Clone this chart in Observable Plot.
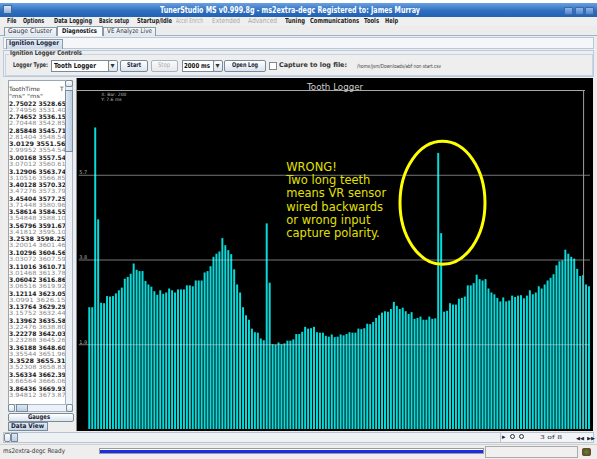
<!DOCTYPE html>
<html><head><meta charset="utf-8">
<script src="https://cdn.jsdelivr.net/npm/d3@7"></script>
<script src="https://cdn.jsdelivr.net/npm/@observablehq/plot@0.6"></script>
<style>
html,body{margin:0;padding:0}
body{width:597px;height:459px;overflow:hidden;position:relative;background:#fff;font-family:"DejaVu Sans",sans-serif;color:#222}
.a{position:absolute;box-sizing:border-box}
.t{position:absolute;white-space:nowrap;transform-origin:0 50%}
#chart{position:absolute;left:76px;top:78px;width:517px;height:353px;background:#000;border-left:1px solid #8a8a8a;box-sizing:border-box}
#chart svg{position:absolute;left:0;top:0}
</style></head><body>
<div id="ui"></div>
<div id="chart"></div>
<script>
// ---------- data ----------
const toothTimes = [
  2.73,2.73,6.76,4.70,2.83,2.82,2.98,2.97,2.98,3.04,3.11,3.17,3.37,3.41,3.48,3.71,3.57,3.54,3.54,3.32,
  3.24,3.19,3.09,3.01,3.11,3.03,3.06,3.15,3.11,3.06,3.13,3.13,3.13,3.22,3.22,3.20,3.33,3.33,3.33,3.51,
  3.54,3.65,3.86,3.93,3.98,4.28,4.12,4.01,3.92,3.58,3.24,3.06,2.73,2.55,2.45,
  2.25,2.17,2.16,2.03,1.99,4.61,3.28,1.90,1.89,1.94,1.90,1.92,1.98,1.98,2.01,2.13,2.13,2.18,2.29,2.25,
  2.26,2.29,2.17,2.16,2.16,2.09,2.07,2.12,2.06,2.07,2.12,2.10,2.13,2.17,2.16,2.16,2.25,2.24,2.26,2.36,
  2.35,2.40,2.49,2.55,2.61,2.64,2.63,2.69,2.85,2.76,2.69,2.72,2.64,2.58,2.62,2.47,2.49,
  2.52,2.45,2.45,2.52,2.47,2.48,6.19,4.39,2.63,2.65,2.82,2.79,2.79,2.92,2.94,2.97,3.22,3.22,3.27,3.46,
  3.36,3.33,3.36,3.15,3.06,3.02,2.94,2.86,2.95,2.86,2.88,2.99,2.96,2.99,3.00,2.93,2.99,3.11,3.02,3.06,
  3.20,3.15,3.24,3.33,3.39,3.47,3.67,3.76,3.78,4.02,3.93,3.86,3.82,3.59,3.43,3.45,3.24,3.20
];
const yTicks = [1.9, 3.8, 5.7];
const yTickLabels = ["1.9", "3.8", "5.7"];
const yMax = 7.6;
const chartTitle = "Tooth Logger";
const cursorInfo = ["X: Bar: 200", "Y: 7.6 ms"];
const noteLines = ["WRONG!", "Two long teeth", "means VR sensor", "wired backwards", "or wrong input", "capture polarity."];
const cursorBar = 168;
const circledBar = 119;
const circleCenterMs = 5.07;

const logToothTime = ["2.75022","2.74956","2.74652","2.70448","2.85848","2.81404","3.0129","2.99952","3.00168","3.07012","3.12906","3.10516","3.40128","3.47276","3.45404","3.71448","3.58614","3.54848","3.56796","3.41812","3.2538","3.20014","3.10296","3.03072","3.11016","3.01468","3.06042","3.06516","3.12114","3.0991","3.13764","3.15752","3.13962","3.22476","3.22278","3.23288","3.36188","3.35544","3.3528","3.52308","3.56334","3.66564","3.86436","3.94812"];
const logTime = ["3528.654","3531.404","3536.151","3542.855","3545.713","3548.547","3551.560","3554.545","3557.547","3560.617","3563.746","3566.851","3570.326","3573.798","3577.253","3580.967","3584.551","3588.100","3591.671","3595.105","3598.253","3601.460","3604.562","3607.590","3610.712","3613.787","3616.867","3619.927","3623.053","3626.152","3629.290","3632.449","3635.583","3638.807","3642.030","3645.263","3648.605","3651.960","3655.313","3658.836","3662.399","3666.065","3669.930","3673.878"];

const menuItems = [["File",7,9.5,0],["Options",23,21,0],["Data Logging",54,38,0],["Basic setup",99,30,0],["Startup/Idle",137,35,0],["Accel Enrich",176,27,1],["Extended",212,28,1],["Advanced",248,29,1],["Tuning",285,20,0],["Communications",310,49,0],["Tools",364,15,0],["Help",385,13,0]];

// ---------- UI helpers ----------
const ui = document.getElementById("ui");
function box(x,y,w,h,css){const d=document.createElement("div");d.className="a";d.style.cssText=`left:${x}px;top:${y}px;width:${w}px;height:${h}px;`+(css||"");ui.appendChild(d);return d;}
function label(s,x,cy,size,css,fitW){const d=document.createElement("div");d.className="t";d.style.cssText=`left:${x}px;top:${cy-size*0.6}px;font-size:${size}px;line-height:${size*1.2}px;`+(css||"");d.textContent=s;ui.appendChild(d);if(fitW){const w=d.getBoundingClientRect().width;if(w>0)d.style.transform=`scaleX(${fitW/w})`;}return d;}
const btn = "background:linear-gradient(#ffffff,#dbe4ee);border:1px solid #7a8a99;border-radius:2px;";

// window background
box(0,3,597,456,"background:#ececec;");
// title bar
box(0,3,597,14,"background:linear-gradient(#6aa0e0,#2f6fc0 55%,#2262b2);");
box(3,5,9,9,"background:linear-gradient(#dfe9f5,#8fb0d8);border:1px solid #406a9a;");
label("TunerStudio MS v0.999.8g - ms2extra-degc Registered to: James Murray",160,10,9,"color:#fff;font-weight:bold;",260);
[564,575,585].forEach(x=>box(x,7,9,8,"background:linear-gradient(#8fb6e6,#4f86cc);border:1px solid #3c6aa8;border-radius:1px;"));
// menu bar
box(0,17,597,9,"background:#efefef;");
menuItems.forEach(([s,x,w,dis])=>label(s,x,21.3,7,dis?"color:#a8a8a8;":"color:#222;font-weight:bold;",w));
// tabs
box(0,35,597,1,"background:#9fb2c6;");
box(4,27,53,9,"background:linear-gradient(#f6f8fb,#dde6f0);border:1px solid #8a9aab;border-bottom:none;");
box(57,26,46,10,"background:#fafcff;border:1px solid #8a9aab;border-bottom:none;");
box(103,27,53,9,"background:linear-gradient(#f6f8fb,#dde6f0);border:1px solid #8a9aab;border-bottom:none;");
label("Gauge Cluster",8,31.8,6.5,"color:#333;",44);
label("Diagnostics",62,31.5,6.5,"color:#111;font-weight:bold;",35);
label("VE Analyze Live",107,31.8,6.5,"color:#333;",45);
// sub tab strip
box(3,37,591,12,"background:#f4f6f9;border:1px solid #b8c8d8;");
box(6,39,57,10,"background:linear-gradient(#e6eef7,#c9d9ea);border:1px solid #8a9aab;border-bottom:none;");
label("Ignition Logger",9,44.3,6.5,"color:#223;font-weight:bold;",50);
// group box
box(3,50,591,27,"border:1px solid #b8cbe0;background:#eeeeee;");
box(5,54,588,22,"border:1px solid #c6d5e6;");
box(9,51,73,6,"background:#eeeeee;");
label("Ignition Logger Controls",10,54,6.5,"color:#333;font-weight:bold;",72);
label("Logger Type:",13,66,6.5,"color:#333;font-weight:bold;",35);
box(51,60,58,12,"background:#fff;border:1px solid #7a8a99;");
label("Tooth Logger",54,66,7,"color:#111;font-weight:bold;",42);
box(108,60,10,12,btn);
label("▾",110.5,66,8,"color:#333;");
box(120,60,28,12,btn);label("Start",127,66,6.5,"color:#223;font-weight:bold;",14);
box(151,60,27,12,"background:linear-gradient(#fafafa,#e6e9ee);border:1px solid #aab4c0;border-radius:2px;");label("Stop",158,66,6.5,"color:#aaa;",12);
box(182,60,32,12,"background:#fff;border:1px solid #7a8a99;");label("2000 ms",184,66,6.8,"color:#111;font-weight:bold;",26);
box(213,60,10,12,btn);label("▾",215.5,66,8,"color:#333;");
box(224,60,42,12,btn);label("Open Log",232,66,6.5,"color:#223;font-weight:bold;",26);
box(269,62,8,8,"background:#fff;border:1px solid #7a8a99;");
label("Capture to log file:",279,66,6.5,"color:#333;font-weight:bold;",68);
label("/home/jsm/Downloads/abf non start.csv",357,66,5.5,"color:#444;",84);
// left panel
box(3,78,73,354,"background:#eeeeee;");
box(8,80,58,325,"background:#fff;border:1px solid #9aa6b2;");
label("ToothTime",9,90.5,5.8,"color:#333;line-height:5.8px;",31);label("T",60,90.5,5.8,"color:#333;line-height:5.8px;");
label("\"ms\"      \"ms\"",9,97,5.6,"color:#444;line-height:5.6px;",34);
logToothTime.forEach((v,i)=>{const y=104.5+i*6.78;const dark=i%2===0;
  const st=(dark?"color:#222;font-weight:bold;":"color:#8a8a8a;")+"line-height:5.6px;";
  label(v+" "+logTime[i],9,y,dark?6.2:5.8,st,61);
});
box(65,80,8,325,"border:1px solid #a3b8cc;background:#eef2f6;");
box(65,80,8,7,btn);box(65,90,8,62,"background:linear-gradient(90deg,#dde8f3,#b8cfe5);border:1px solid #7a8a99;");
box(8,404,65,8,"background:#eef2f6;border:1px solid #a3b8cc;");
box(8,404,7,8,btn);box(16,404,12,8,"background:linear-gradient(#dde8f3,#b8cfe5);border:1px solid #7a8a99;");box(66,404,7,8,btn);
box(8,413,66,9,btn);label("Gauges",28,417.5,6.5,"color:#223;font-weight:bold;",22);
box(8,422,40,9,"background:linear-gradient(#e2ecf7,#c3d6ea);border:1px solid #7a8a99;");label("Data View",11,426.5,6.5,"color:#223;font-weight:bold;",33);
// bottom scroll row
box(3,432,591,11,"background:#eef1f4;border:1px solid #b8c4d0;");
box(4,433,7,9,btn);box(11,433,7,9,"background:linear-gradient(#dde8f3,#b8cfe5);border:1px solid #7a8a99;");
box(500,432,94,11,"background:#f2f4f7;border:1px solid #b8c4d0;");
label("▸",502,437.5,7,"color:#223;");
box(510,434,5,5,"border:1px solid #333;border-radius:50%;");box(519,434,5,5,"border:1px solid #333;border-radius:50%;");
label("3  of  8",540,437.5,5.5,"color:#333;",22);
label("◀◀",576,437.5,5,"color:#223;",8);label("▶▶",587,437.5,5,"color:#223;",8);
// status bar
box(0,444,597,15,"background:#eeeeee;border-top:1px solid #d0d0d0;");
label("ms2extra-degc Ready",3,452,6.5,"color:#333;",62);
box(99,448,385,6,"background:#fff;border:1px solid #9a9a9a;");
box(100,449.5,383,3,"background:#1a2ee6;");
box(485,446,93,12,"background:#f0f0f0;border:1px solid #aaa;");
box(582,448,9,8,"background:radial-gradient(#3a9a3a,#8a1a1a);border-radius:2px;");

// ---------- chart ----------
const data = toothTimes.map((v,i)=>({tooth:i+1, ms:v}));
const W=516, H=353;
const plot = Plot.plot({
  width: W, height: H,
  marginLeft: 10.33, marginRight: 2.03, marginTop: 12, marginBottom: 2,
  style: {background:"#000", fontFamily:"DejaVu Sans", overflow:"visible"},
  x: {type:"band", domain: data.map(d=>d.tooth), padding: 0.33, axis: null},
  y: {domain:[0, yMax], axis: null},
  marks: [
    Plot.barY(data, {x:"tooth", y:"ms", fill:"#08dada"}),
    Plot.ruleY(yTicks, {stroke:"#d8d8d8", strokeOpacity:0.55, insetLeft:-8.6, insetRight:1}),
    Plot.ruleY([yMax], {stroke:"#a8a8a8", insetLeft:-10.3, insetRight:6}),
    Plot.ruleX([cursorBar], {x:d=>d, y1:0, y2:yMax, stroke:"#a0a0a0"}),
    Plot.text(yTicks, {y:d=>d, text:(d,i)=>yTickLabels[i], frameAnchor:"left", dx:-8.5, dy:-2.5, textAnchor:"start", fill:"#aaa", fontSize:5}),
    Plot.text([chartTitle], {text:d=>d, frameAnchor:"top", dx:-4.6, dy:-7, fill:"#cfcfcf", fontSize:8.7}),
    Plot.text([cursorInfo.join("\n")], {text:d=>d, frameAnchor:"top-left", dx:13.4, dy:2, lineAnchor:"top", textAnchor:"start", fill:"#bbb", fontSize:4.5, lineHeight:1.1}),
    Plot.text([noteLines.join("\n")], {text:d=>d, frameAnchor:"top-left", dx:198.4, dy:70.7, lineAnchor:"top", textAnchor:"start", fill:"#e2e000", fontSize:11.5, lineHeight:1.16})
  ]
});
document.getElementById("chart").appendChild(plot);
const sx = plot.scale("x"), sy = plot.scale("y");
d3.select(plot).append("ellipse")
  .attr("cx", sx.apply(circledBar) + sx.bandwidth/2 + 4.3)
  .attr("cy", sy.apply(circleCenterMs))
  .attr("rx", 42.5).attr("ry", 61.5)
  .attr("fill", "none").attr("stroke", "#ffff00").attr("stroke-width", 3);
</script></body></html>
